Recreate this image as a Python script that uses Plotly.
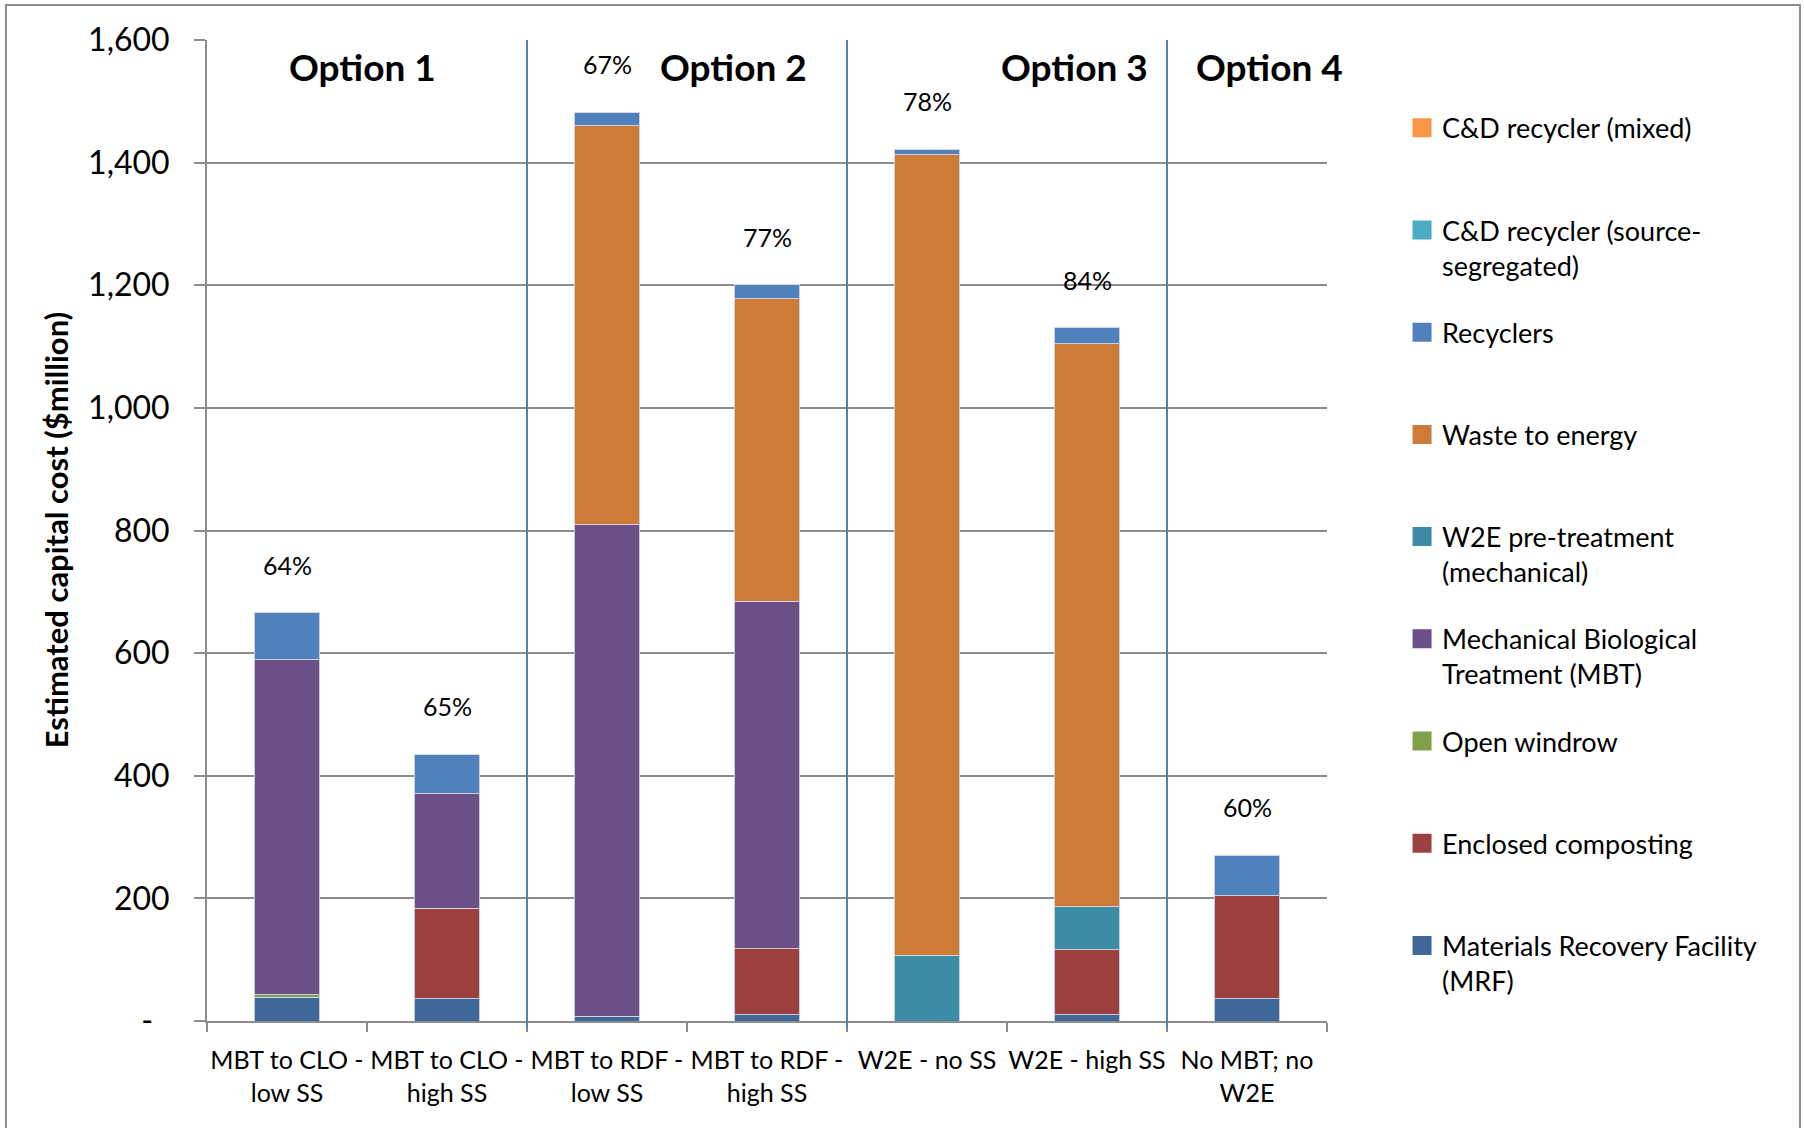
import plotly.graph_objects as go

categories = ["MBT to CLO -<br>low SS", "MBT to CLO -<br>high SS", "MBT to RDF -<br>low SS",
              "MBT to RDF -<br>high SS", "W2E - no SS", "W2E - high SS", "No MBT; no<br>W2E"]

mrf = [39, 36, 8, 10, 0, 10, 36]
enclosed = [0, 148, 0, 108, 0, 106, 168]
open_windrow = [4, 0, 0, 0, 0, 0, 0]
mbt = [546, 187, 802, 567, 0, 0, 0]
w2e_pre = [0, 0, 0, 0, 107, 70, 0]
wte = [0, 0, 650, 493, 1306, 919, 0]
recyclers = [77, 64, 22, 23, 9, 26, 66]
cd_source = [0, 0, 0, 0, 0, 0, 0]
cd_mixed = [0, 0, 0, 0, 0, 0, 0]

pct_labels = ["64%", "65%", "67%", "77%", "78%", "84%", "60%"]
option_labels = ["Option 1", "Option 2", "Option 3", "Option 4"]
option_pos = [0.47, 2.79, 4.92, 6.14]

ytick_vals = [0, 200, 400, 600, 800, 1000, 1200, 1400, 1600]
ytick_text = ["-\u00a0\u00a0", "200", "400", "600", "800", "1,000", "1,200", "1,400", "1,600"]

# bottom to top stacking order
series = [
    ("Materials Recovery Facility<br>(MRF)", mrf, "#3F6899"),
    ("Enclosed composting<br>\u00a0", enclosed, "#9C413F"),
    ("Open windrow<br>\u00a0", open_windrow, "#82A04A"),
    ("Mechanical Biological<br>Treatment (MBT)", mbt, "#6B4F86"),
    ("W2E pre-treatment<br>(mechanical)", w2e_pre, "#3D8CA5"),
    ("Waste to energy<br>\u00a0", wte, "#CC7B38"),
    ("Recyclers<br>\u00a0", recyclers, "#4F81BD"),
    ("C&D recycler (source-<br>segregated)", cd_source, "#4BACC6"),
    ("C&D recycler (mixed)<br>\u00a0", cd_mixed, "#F79646"),
]

FONT = "Lato, 'Open Sans', sans-serif"
fig = go.Figure()

for name, vals, color in series:
    fig.add_trace(go.Bar(
        x=categories, y=vals, name=name, showlegend=False,
        marker=dict(color=color, line=dict(color="rgba(215,215,225,0.9)", width=1)),
    ))

# legend entries (top to bottom)
for i, (name, vals, color) in enumerate(reversed(series)):
    fig.add_trace(go.Scatter(
        x=[categories[0]], y=[None], mode="markers", name=name,
        legendgroup="g%d" % i,
        marker=dict(symbol="square", size=16, color=color, line=dict(color=color, width=3)),
        hoverinfo="skip",
    ))

totals = [sum(v) for v in zip(mrf, enclosed, open_windrow, mbt, w2e_pre, wte, recyclers, cd_source, cd_mixed)]
for cat, tot, lab in zip(categories, totals, pct_labels):
    fig.add_annotation(x=cat, y=tot, text=lab, showarrow=False, yshift=48,
                       font=dict(size=25, color="#000000", family=FONT))

for lab, pos in zip(option_labels, option_pos):
    fig.add_annotation(x=pos, y=1557, xref="x", yref="y", text="<b>%s</b>" % lab, showarrow=False,
                       font=dict(size=37, color="#000000", family=FONT))

fig.add_annotation(x=-0.135, y=0.5, xref="paper", yref="paper", textangle=-90,
                   xanchor="center", yanchor="middle",
                   text="<b>Estimated capital cost ($million)</b>", showarrow=False,
                   font=dict(size=31, color="#000000", family=FONT))

for xpos in [1.5, 3.5, 5.5]:
    fig.add_shape(type="line", xref="x", yref="paper", x0=xpos, x1=xpos, y0=-0.008, y1=1,
                  line=dict(color="#4F81BD", width=2))

fig.add_shape(type="rect", xref="paper", yref="paper", x0=-0.1795, x1=1.4223, y0=-0.12, y1=1.0357,
              line=dict(color="#8c8c8c", width=2), fillcolor="rgba(0,0,0,0)", layer="below")

fig.update_layout(
    width=1804, height=1128,
    margin=dict(l=207, r=477, t=40, b=107, autoexpand=False),
    barmode="stack", bargap=0.59,
    plot_bgcolor="white", paper_bgcolor="white",
    font=dict(family=FONT, color="#000000"),
    legend=dict(x=1.067, y=0.935, xanchor="left", yanchor="top", valign="top",
                traceorder="grouped", tracegroupgap=29,
                font=dict(size=27, color="#000000", family=FONT),
                bgcolor="rgba(0,0,0,0)"),
    xaxis=dict(showline=True, linecolor="#8c8c8c", linewidth=2, ticks="outside", tickson="boundaries",
               ticklen=9, tickcolor="#8c8c8c", tickwidth=2, showgrid=False, tickangle=0,
               tickfont=dict(size=25, color="#000000", family=FONT), ticklabelstandoff=16,
               range=[-0.5, 6.5], fixedrange=True),
    yaxis=dict(range=[0, 1600], tickvals=ytick_vals, ticktext=ytick_text,
               showline=True, linecolor="#8c8c8c", linewidth=2, ticks="outside", ticklen=11,
               tickcolor="#8c8c8c", tickwidth=2, showgrid=True, gridcolor="#8c8c8c", gridwidth=2,
               zeroline=False, tickfont=dict(size=32, color="#000000", family=FONT),
               ticklabelstandoff=18, fixedrange=True),
)

fig.write_html("out.html")
